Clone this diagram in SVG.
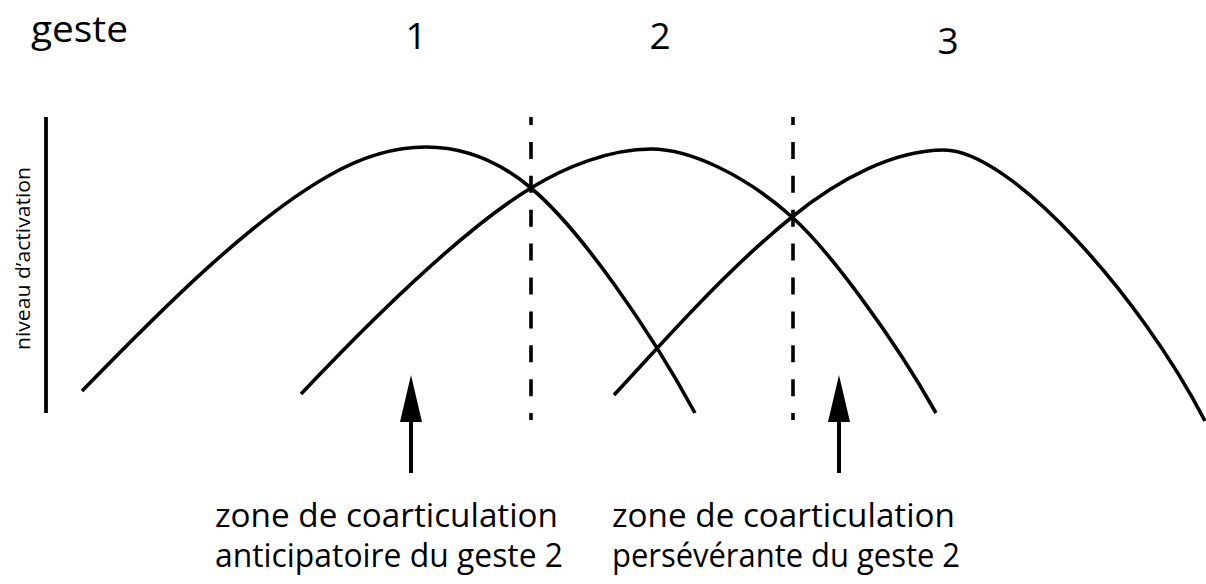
<svg xmlns="http://www.w3.org/2000/svg" width="1206" height="584" viewBox="0 0 1206 584">
<style>
.t{font-family:"Open Sans","Liberation Sans",sans-serif;fill:#000}
.big{font-size:37px}
.lab{font-size:32px}
.curve{fill:none;stroke:#000;stroke-width:3.6;stroke-linecap:butt}
.dash{fill:none;stroke:#000;stroke-width:3.6;stroke-dasharray:17 16.9;stroke-dashoffset:9}
.axis{stroke:#000;stroke-width:3.8}
.arr{stroke:#000;stroke-width:4;fill:none}
</style>
<defs>
<marker id="ah" viewBox="-22 -11 47 22" markerWidth="47" markerHeight="22" refX="0" refY="0" orient="auto" markerUnits="userSpaceOnUse">
<path d="M-22,-11 L25,0 L-22,11 z" fill="#000"/>
</marker>
</defs>
<rect width="1206" height="584" fill="#fff"/>
<g id="header">
<text class="t big" x="31" y="42" textLength="97" lengthAdjust="spacingAndGlyphs">geste</text>
<text class="t big" x="416" y="49" text-anchor="middle">1</text>
<text class="t big" x="660" y="49" text-anchor="middle">2</text>
<text class="t big" x="948" y="54" text-anchor="middle">3</text>
</g>
<g id="axis">
<line class="axis" x1="46" y1="117" x2="46" y2="413"/>
<text class="t" font-size="20" transform="translate(30,350) rotate(-90)" textLength="183" lengthAdjust="spacingAndGlyphs">niveau d’activation</text>
</g>
<g id="geste1">
<path class="curve" d="M82,391 C160,311 250,220 330,175 C365,155 395,147 426,147 C465,147 500,162 531,188 C580,229 650,330 695,413"/>
</g>
<g id="geste2">
<path class="curve" d="M301,394 C390,300 470,225 531,188 C565,167 610,149 651,149 C690,149 745,175 792,217 C830,251 895,340 936,413"/>
</g>
<g id="geste3">
<path class="curve" d="M614,395 C650,357 720,275 792,217 C840,178 895,150 944,150 C1010,150 1140,295 1205,421"/>
</g>
<g id="limits">
<line class="dash" x1="531" y1="117" x2="531" y2="420"/>
<line class="dash" x1="793" y1="117" x2="793" y2="420"/>
</g>
<g id="connectors">
<line class="arr" x1="411" y1="473" x2="411" y2="400" marker-end="url(#ah)"/>
<line class="arr" x1="839" y1="473" x2="839" y2="400" marker-end="url(#ah)"/>
</g>
<g id="label-anticipatoire">
<text class="t lab" x="215" y="527" textLength="343" lengthAdjust="spacingAndGlyphs">zone de coarticulation</text>
<text class="t lab" x="215" y="567" textLength="348" lengthAdjust="spacingAndGlyphs">anticipatoire du geste 2</text>
</g>
<g id="label-perseverante">
<text class="t lab" x="612" y="527" textLength="343" lengthAdjust="spacingAndGlyphs">zone de coarticulation</text>
<text class="t lab" x="612" y="567" textLength="348" lengthAdjust="spacingAndGlyphs">persévérante du geste 2</text>
</g>
</svg>
